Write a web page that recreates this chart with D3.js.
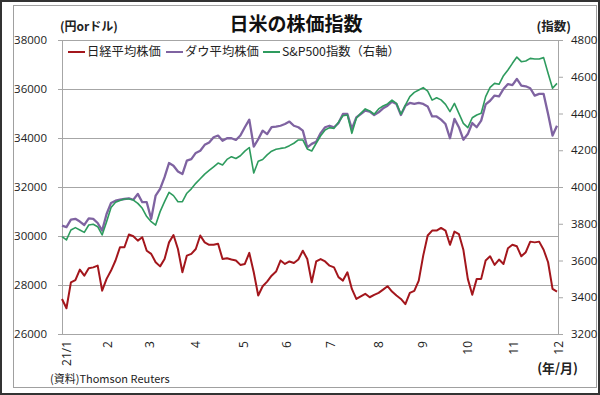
<!DOCTYPE html>
<html>
<head>
<meta charset="utf-8">
<script src="https://cdn.jsdelivr.net/npm/d3@7/dist/d3.min.js"></script>
<style>
  body { margin: 0; background: #fff; }
  svg { display: block; font-family: "Noto Sans CJK JP", "Noto Sans", sans-serif; }
</style>
</head>
<body>
<svg id="chart"></svg>
<script>
// 値は3日おき（2021/1/4 起点）に図から読み取ったもの
const nikkei = [
  27430, 27050, 28110, 28200, 28630, 28380, 28680, 28720, 28790, 27770, 28250, 28590, 29000, 29540,
  29540, 30060, 29990, 29810, 29950, 29400, 29270, 28930, 28760, 29060, 29740, 30040, 29470, 28520,
  29200, 29270, 29470, 30020, 29740, 29640, 29640, 29680, 29060, 29090, 29040, 29000, 28820, 28860,
  29310, 28520, 27570, 27950, 28140, 28380, 28550, 29000, 28860, 28960, 28900, 29040, 29400, 29060,
  28110, 28960, 29060, 28960, 28790, 28720, 28320, 28180, 28520, 27840, 27430, 27540, 27640, 27500,
  27600, 27680, 27810, 27950, 27730, 27570, 27430, 27220, 27680, 27760, 28180, 29200, 30020, 30220,
  30220, 30330, 30220, 29640, 30180, 30080, 29440, 28250, 27600, 28250, 28250, 29000, 29170, 28820,
  29040, 28860, 29500, 29640, 29580, 29170, 29340, 29770, 29740, 29770, 29440, 28930, 27840, 27730
];
const dow = [
  30420, 30360, 30670, 30700, 30590, 30450, 30720, 30700, 30530, 30220, 30900, 31350, 31440, 31480,
  31510, 31540, 31480, 31720, 31380, 31380, 30700, 31650, 31920, 32400, 32980, 32870, 32630, 32530,
  33080, 33140, 33390, 33480, 33720, 33820, 34030, 34100, 33890, 33990, 33990, 33920, 34100, 34440,
  34750, 33650, 33950, 34300, 34160, 34440, 34460, 34500, 34570, 34670, 34500, 34440, 34300, 33620,
  33760, 33850, 34200, 34440, 34500, 34440, 34610, 34980, 34980, 34370, 34840, 34980, 35120, 35080,
  34940, 35050, 35210, 35320, 35480, 35390, 34940, 35320, 35430, 35390, 35430, 35390, 35290, 34880,
  34880, 34750, 34570, 33990, 34780, 34440, 33930, 34160, 34610, 34440, 34710, 35370, 35520, 35730,
  35700, 36000, 36200, 36160, 36410, 36140, 36110, 36030, 35730, 35800, 35800, 34980, 34100, 34500
];
const sp500 = [
  3730, 3712, 3766, 3779, 3766, 3753, 3793, 3797, 3784, 3739, 3811, 3888, 3917, 3927,
  3935, 3935, 3929, 3911, 3884, 3839, 3811, 3793, 3866, 3920, 3971, 3953, 3920, 3920,
  3966, 3990, 4020, 4045, 4070, 4090, 4110, 4130, 4120, 4150, 4165, 4155, 4170, 4195,
  4215, 4076, 4140, 4150, 4175, 4195, 4205, 4210, 4214, 4225, 4238, 4256, 4256, 4207,
  4196, 4238, 4279, 4310, 4323, 4319, 4352, 4388, 4392, 4292, 4374, 4401, 4425, 4414,
  4396, 4425, 4441, 4452, 4473, 4455, 4396, 4446, 4492, 4515, 4528, 4541, 4522, 4473,
  4486, 4474, 4450, 4410, 4455, 4401, 4346, 4323, 4377, 4392, 4401, 4492, 4542, 4564,
  4559, 4606, 4637, 4673, 4707, 4682, 4686, 4700, 4697, 4697, 4704, 4619, 4537, 4564
];

const leftTicks = [26000, 28000, 30000, 32000, 34000, 36000, 38000];
const rightTicks = [3200, 3400, 3600, 3800, 4000, 4200, 4400, 4600, 4800];
const monthDays = ["2021-01-04", "2021-02-01", "2021-03-01", "2021-04-01", "2021-05-03", "2021-06-01",
  "2021-07-01", "2021-08-02", "2021-09-01", "2021-10-01", "2021-11-01", "2021-12-01"];
const monthLabels = ["21/1", "2", "3", "4", "5", "6", "7", "8", "9", "10", "11", "12"];

const seriesNames = ["日経平均株価", "ダウ平均株価", "S&P500指数（右軸）"];
const colors = ["#a3161c", "#7f63a1", "#2e9b5e"];

const W = 600, H = 395;
const plot = { left: 62, right: 558, top: 40, bottom: 334 };

const svg = d3.select("#chart").attr("width", W).attr("height", H);
svg.append("rect").attr("width", W).attr("height", H).attr("fill", "#fff");

// 外枠
svg.append("rect").attr("x", 1).attr("y", 1).attr("width", W - 2).attr("height", H - 2)
  .attr("fill", "none").attr("stroke", "#333").attr("stroke-width", 2);
svg.append("rect").attr("x", 13.5).attr("y", 5.5).attr("width", 583).attr("height", 382)
  .attr("fill", "none").attr("stroke", "#a0a0a0").attr("stroke-width", 1);

const parse = d3.timeParse("%Y-%m-%d");
const start = parse("2021-01-04");
const dates = nikkei.map((d, i) => d3.timeDay.offset(start, 3 * i));

const x = d3.scaleTime().domain([start, dates[dates.length - 1]]).range([plot.left, plot.right - 1]);
const yL = d3.scaleLinear().domain([26000, 38000]).range([plot.bottom, plot.top]);
const yR = d3.scaleLinear().domain([3200, 4800]).range([plot.bottom, plot.top]);

const gridColor = "#a6a6a6";

// 目盛線
const grid = svg.append("g").attr("transform", `translate(${plot.right},0)`)
  .call(d3.axisLeft(yL).tickValues(leftTicks).tickSize(plot.right - plot.left + 4).tickFormat(""));
grid.select(".domain").remove();
grid.selectAll("line").attr("stroke", gridColor).attr("shape-rendering", "crispEdges");

// 左軸
const gl = svg.append("g").attr("transform", `translate(${plot.left},0)`)
  .call(d3.axisLeft(yL).tickValues(leftTicks).tickSize(4).tickPadding(11).tickFormat(d3.format("d")));
gl.select(".domain").attr("stroke", gridColor).attr("shape-rendering", "crispEdges");
gl.selectAll("line").attr("stroke", gridColor);
gl.selectAll("text").attr("font-size", 11.5).attr("fill", "#222")
  .attr("font-family", "'Open Sans', 'Noto Sans', sans-serif");

// 右軸
const gr = svg.append("g").attr("transform", `translate(${plot.right},0)`)
  .call(d3.axisRight(yR).tickValues(rightTicks).tickSize(5).tickPadding(8).tickFormat(d3.format("d")));
gr.select(".domain").attr("stroke", gridColor).attr("shape-rendering", "crispEdges");
gr.selectAll("line").attr("stroke", gridColor);
gr.selectAll("text").attr("font-size", 11.5).attr("fill", "#222")
  .attr("font-family", "'Open Sans', 'Noto Sans', sans-serif");

// 横軸（月）
const gb = svg.append("g").attr("transform", `translate(0,${plot.bottom})`)
  .call(d3.axisBottom(x).tickValues(monthDays.map(parse)).tickSize(0)
    .tickFormat((d, i) => monthLabels[i]));
gb.select(".domain").remove();
gb.selectAll("text")
  .attr("transform", "rotate(-90)")
  .attr("text-anchor", "end")
  .attr("x", -7).attr("y", 4).attr("dy", "0.35em")
  .attr("font-size", 12).attr("fill", "#222")
  .attr("font-family", "'Open Sans', 'Noto Sans', sans-serif");

// 系列
const lineL = d3.line().x((d, i) => x(dates[i])).y(d => yL(d));
const lineR = d3.line().x((d, i) => x(dates[i])).y(d => yR(d));

svg.append("path").datum(nikkei).attr("d", lineL)
  .attr("fill", "none").attr("stroke", colors[0]).attr("stroke-width", 2).attr("stroke-linejoin", "round");
svg.append("path").datum(dow).attr("d", lineL)
  .attr("fill", "none").attr("stroke", colors[1]).attr("stroke-width", 2.3).attr("stroke-linejoin", "round");
svg.append("path").datum(sp500).attr("d", lineR)
  .attr("fill", "none").attr("stroke", colors[2]).attr("stroke-width", 1.6).attr("stroke-linejoin", "round");

// 凡例
const legendX = [68, 166, 263];
const legend = svg.append("g").selectAll("g").data(seriesNames).join("g")
  .attr("transform", (d, i) => `translate(${legendX[i]},52)`);
legend.append("line").attr("x1", 0).attr("x2", 17).attr("y1", 0).attr("y2", 0)
  .attr("stroke", (d, i) => colors[i]).attr("stroke-width", 2);
legend.append("text").attr("x", 19).attr("dy", "0.36em").attr("font-size", 12.3).attr("fill", "#222")
  .text(d => d);

// タイトル・注記
svg.append("text").attr("x", 296).attr("y", 31).attr("text-anchor", "middle")
  .attr("font-size", 19).attr("font-weight", "bold").attr("fill", "#111").text("日米の株価指数");
svg.append("text").attr("x", 60).attr("y", 31).attr("font-size", 12).attr("fill", "#222")
  .attr("font-weight", "bold").text("(円orドル)");
svg.append("text").attr("x", 571).attr("y", 31).attr("text-anchor", "end").attr("font-size", 12.5)
  .attr("font-weight", "bold").attr("fill", "#222").text("(指数)");
svg.append("text").attr("x", 578).attr("y", 373).attr("text-anchor", "end").attr("font-size", 13)
  .attr("font-weight", "bold").attr("fill", "#222").text("(年/月)");
svg.append("text").attr("x", 50).attr("y", 383).attr("font-size", 11).attr("fill", "#222")
  .text("(資料)Thomson Reuters");
</script>
</body>
</html>
